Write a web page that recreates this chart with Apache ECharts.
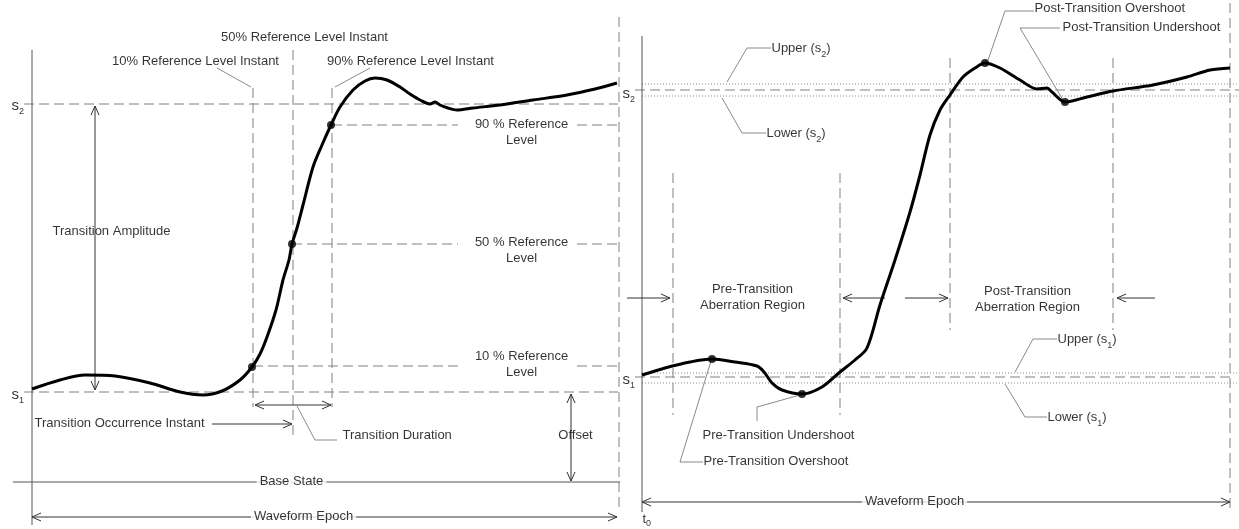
<!DOCTYPE html>
<html lang="en">
<head>
    <meta charset="UTF-8">
    <title>Transition waveform terms</title>
    <script type="text/javascript" src="https://cdn.jsdelivr.net/npm/echarts@6/dist/echarts.min.js"></script>
    <style>
        html, body { margin: 0; padding: 0; background: #fff; }
        #main { width: 1239px; height: 529px; }
    </style>
</head>
<body>
<div id="main"></div>
<script>
    // waveform (x = time, y = screen level, s1/s2 lines as marked)
    const curveLeft = [[32,389],[60,380],[85,375],[115,376],[150,383],[180,392],[203,395],[222,391],[240,380],[252,367],
        [260,354],[267,337],[276,310],[283,280],[289,260],[292,244],[297,228],[303,205],[313,167],[322,145],[331,125],
        [340,107],[353,90],[365,81],[375,78],[387,80],[400,87],[410,94],[420,100],[430,104],[435,102],[440,105],
        [448,108],[457,110],[473,108],[500,105],[533,100],[567,95],[595,89],[617,83]];
    const curveRight = [[642,375],[665,368],[690,362],[712,359],[735,362],[757,366],[764,372],[772,383],[782,390],
        [802,394],[822,387],[840,372],[855,360],[867,348],[880,305],[895,260],[910,212],[920,175],
        [930,135],[940,110],[950,95],[963,77],[975,68],[985,63],[1000,68],[1020,80],[1037,89],[1047,88],
        [1052,92],[1065,102],[1087,97],[1113,91],[1153,85],[1187,77],[1210,70],[1230,68]];
    const dots = [[252,367],[292,244],[331,125],[712,359],[802,394],[985,63],[1065,102]];

    // dashed reference lines [x1,y1,x2,y2]
    const dashed = [
        [24,104,618,104],[24,392,618,392],
        [332,125,458,125],[577,125,618,125],
        [292,244,458,244],[577,244,618,244],
        [253,366,458,366],[577,366,618,366],
        [253,88,253,407],[293,50,293,440],[332,88,332,407],
        [619,17,619,510],
        [635,90,1239,90],[635,377,1230,377],
        [673,173,673,415],[840,173,840,415],
        [950,58,950,330],[1113,58,1113,330],
        [1230,3,1230,508]
    ];
    const dotted = [[642,84,1239,84],[642,96,1239,96],[642,373,1239,373],[642,383,1239,383]];
    const solid = [[32,50,32,525],[642,36,642,512],[13,482,620,482]];
    // leader polylines
    const leaders = [
        [[217,68],[251,87]],
        [[370,68],[335,87]],
        [[297,406],[315,440],[337,440]],
        [[727,82],[747,48],[771,48]],
        [[722,98],[742,133],[766,133]],
        [[988,60],[1005,11],[1034,11]],
        [[1063,100],[1020,28],[1060,28]],
        [[1015,372],[1033,339],[1057,339]],
        [[1005,384],[1025,417],[1047,417]],
        [[800,395],[757,407],[757,421]],
        [[711,361],[680,462],[703,462]]
    ];
    // arrows [x1,y1,x2,y2,headStart,headEnd]
    const arrows = [
        [95,106,95,390,1,1],
        [212,424,292,424,0,1],
        [255,405,331,405,1,1],
        [571,394,571,481,1,1],
        [32,517,617,517,1,1],
        [627,298,670,298,0,1],
        [885,298,843,298,0,1],
        [905,298,948,298,0,1],
        [1155,298,1117,298,0,1],
        [642,502,1230,502,1,1]
    ];
    // text [label, x, y, align, boxed, size]
    const texts = [
        ['50% Reference Level Instant',305,38,'center'],
        ['10% Reference Level Instant',196,62,'center'],
        ['90% Reference Level Instant',411,62,'center'],
        ['s{sub|2}',12,106,'left',0,15],
        ['s{sub|1}',12,395,'left',0,15],
        ['Transition Amplitude',53,232,'left'],
        ['90 % Reference\nLevel',522,133,'center'],
        ['50 % Reference\nLevel',522,251,'center'],
        ['10 % Reference\nLevel',522,365,'center'],
        ['Transition Occurrence Instant',35,424,'left'],
        ['Transition Duration',343,436,'left'],
        ['Offset',576,436,'center'],
        ['Base State',292,482,'center',1],
        ['Waveform Epoch',304,517,'center',1],
        ['s{sub|2}',623,94,'left',0,15],
        ['s{sub|1}',623,380,'left',0,15],
        ['t{low|0}',643,520,'left'],
        ['Upper (s{sub|2})',772,49,'left'],
        ['Lower (s{sub|2})',767,134,'left'],
        ['Post-Transition Overshoot',1035,9,'left'],
        ['Post-Transition Undershoot',1063,28,'left'],
        ['Pre-Transition\nAberration Region',753,298,'center'],
        ['Post-Transition\nAberration Region',1028,300,'center'],
        ['Upper (s{sub|1})',1058,340,'left'],
        ['Lower (s{sub|1})',1048,418,'left'],
        ['Pre-Transition Undershoot',703,436,'left'],
        ['Pre-Transition Overshoot',704,462,'left'],
        ['Waveform Epoch',915,502,'center',1]
    ];

    function seg(a) { return {coords: [[a[0], a[1]], [a[2], a[3]]]}; }

    function head(tx, ty, fx, fy) {
        var dx = fx - tx, dy = fy - ty, l = Math.sqrt(dx * dx + dy * dy);
        dx /= l; dy /= l;
        var len = 9, w = 4;
        return {coords: [[tx + dx * len - dy * w, ty + dy * len + dx * w], [tx, ty],
            [tx + dx * len + dy * w, ty + dy * len - dx * w]]};
    }

    var arrowLines = [];
    arrows.forEach(function (a) {
        arrowLines.push(seg(a));
        if (a[4]) arrowLines.push(head(a[0], a[1], a[2], a[3]));
        if (a[5]) arrowLines.push(head(a[2], a[3], a[0], a[1]));
    });

    var chartDom = document.getElementById('main');
    var myChart = echarts.init(chartDom);
    var font = '"Liberation Sans", Arial, sans-serif';
    var option = {
        animation: false,
        backgroundColor: '#fff',
        grid: {left: 0, right: 0, top: 0, bottom: 0},
        xAxis: {type: 'value', min: 0, max: 1239, show: false},
        yAxis: {type: 'value', min: 0, max: 529, inverse: true, show: false},
        series: [
            {
                type: 'lines', coordinateSystem: 'cartesian2d', polyline: true, z: 1,
                lineStyle: {color: '#808080', width: 1, type: [10, 5], opacity: 1},
                data: dashed.map(seg)
            },
            {
                type: 'lines', coordinateSystem: 'cartesian2d', polyline: true, z: 1,
                lineStyle: {color: '#8a8a8a', width: 1, type: [1, 2], opacity: 1},
                data: dotted.map(seg)
            },
            {
                type: 'lines', coordinateSystem: 'cartesian2d', polyline: true, z: 2,
                lineStyle: {color: '#555', width: 1, type: 'solid', opacity: 1},
                data: solid.map(seg)
            },
            {
                type: 'lines', coordinateSystem: 'cartesian2d', polyline: true, z: 2,
                lineStyle: {color: '#8a8a8a', width: 1, type: 'solid', opacity: 1},
                data: leaders.map(function (p) { return {coords: p}; })
            },
            {
                type: 'lines', coordinateSystem: 'cartesian2d', polyline: true, z: 2,
                lineStyle: {color: '#333', width: 1, type: 'solid', opacity: 1},
                data: arrowLines
            },
            {
                type: 'line', data: curveLeft, smooth: 0.3, showSymbol: false, z: 5,
                lineStyle: {color: '#000', width: 3}
            },
            {
                type: 'line', data: curveRight, smooth: 0.3, showSymbol: false, z: 5,
                lineStyle: {color: '#000', width: 3}
            },
            {
                type: 'scatter', data: dots, symbolSize: 8, z: 6,
                itemStyle: {color: '#000'}
            },
            {
                type: 'scatter', symbolSize: 1, z: 10,
                itemStyle: {color: 'rgba(0,0,0,0)'},
                data: texts.map(function (t) {
                    return {
                        value: [t[1], t[2]],
                        label: {
                            show: true, position: [0, 0], formatter: t[0],
                            align: t[3], verticalAlign: 'middle',
                            color: '#000', fontSize: t[5] || 13, fontFamily: font, lineHeight: 16,
                            backgroundColor: t[4] ? '#fff' : 'transparent',
                            padding: t[4] ? [0, 3] : 0,
                            rich: {
                                sub: {fontSize: 9, lineHeight: 22, verticalAlign: 'bottom',
                                    color: '#000', fontFamily: font},
                                low: {fontSize: 9, lineHeight: 18, verticalAlign: 'bottom',
                                    color: '#000', fontFamily: font}
                            }
                        }
                    };
                })
            }
        ]
    };
    myChart.setOption(option);
</script>
</body>
</html>
